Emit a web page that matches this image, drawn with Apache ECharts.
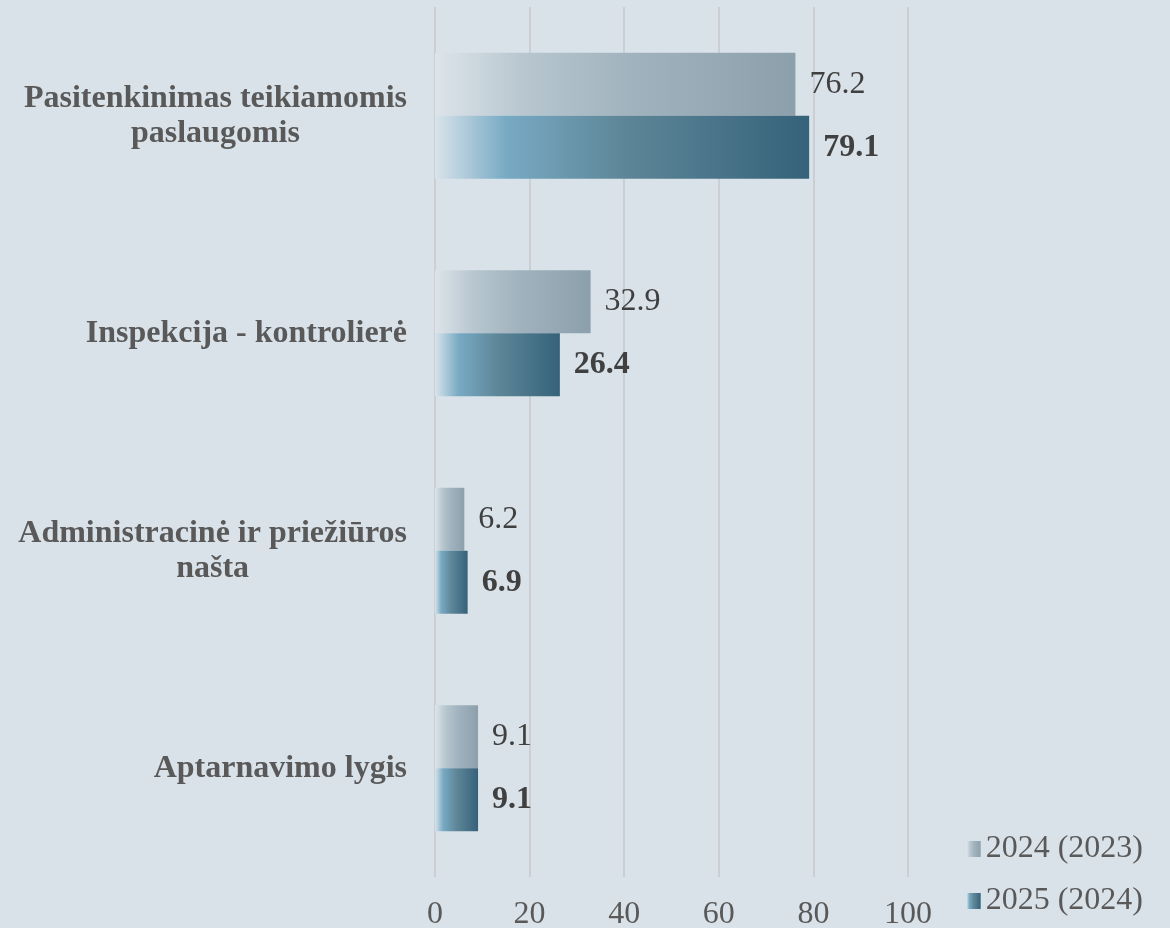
<!DOCTYPE html>
<html>
<head>
<meta charset="utf-8">
<script src="https://cdn.jsdelivr.net/npm/echarts@6/dist/echarts.min.js"></script>
<style>
html,body{margin:0;padding:0;background:#dae2e9;}
#chart{width:1170px;height:928px;}
</style>
</head>
<body>
<div id="chart"></div>
<script>
const categories = ['Pasitenkinimas teikiamomis\npaslaugomis', 'Inspekcija - kontrolierė', 'Administracinė ir priežiūros\nnašta', 'Aptarnavimo lygis'];
const seriesNames = ['2024 (2023)', '2025 (2024)'];
const values2024 = [76.2, 32.9, 6.2, 9.1];
const values2025 = [79.1, 26.4, 6.9, 9.1];
const xTicks = { min: 0, max: 100, interval: 20 };

const FONT = "'Liberation Serif', 'Times New Roman', serif";

function grad(stops) {
  return new echarts.graphic.LinearGradient(0, 0, 1, 0, stops.map(s => ({ offset: s[0], color: s[1] })));
}
const grad2024 = grad([[0, '#dde4ea'], [0.25, '#b7c6cf'], [0.55, '#a0b2bd'], [1, '#8ca0ac']]);
const grad2025 = grad([[0, '#d8e3ea'], [0.19, '#78aac4'], [0.5, '#5e8698'], [1, '#35627a']]);

const chart = echarts.init(document.getElementById('chart'));
chart.setOption({
  backgroundColor: '#dae2e9',
  animation: false,
  grid: { left: 435, right: 262, top: 7, bottom: 51, containLabel: false, outerBoundsMode: 'none' },
  legend: {
    orient: 'vertical',
    right: 22,
    bottom: 6,
    itemWidth: 14,
    itemHeight: 16,
    itemGap: 20,
    icon: 'rect',
    textStyle: { fontFamily: FONT, fontSize: 32, color: '#595959' },
    data: seriesNames
  },
  xAxis: {
    type: 'value',
    min: xTicks.min, max: xTicks.max, interval: xTicks.interval,
    axisLine: { show: false },
    axisTick: { show: false },
    splitLine: { show: true, lineStyle: { color: '#cbcfd3', width: 2 } },
    axisLabel: { fontFamily: FONT, fontSize: 32, color: '#595959', margin: 22 }
  },
  yAxis: {
    type: 'category',
    inverse: true,
    data: categories,
    axisLine: { show: false },
    axisTick: { show: false },
    splitLine: { show: false },
    axisLabel: {
      margin: 28,
      formatter: function (v) {
        return v.split('\n').map(l => '{a|' + l + '}').join('\n');
      },
      rich: {
        a: { align: 'center', fontFamily: FONT, fontSize: 32, fontWeight: 'bold', color: '#595959', lineHeight: 35 }
      }
    }
  },
  series: [
    {
      name: seriesNames[0], type: 'bar', data: values2024,
      barWidth: 63, barGap: '0%',
      itemStyle: { color: grad2024 },
      label: { show: true, position: 'right', distance: 14, fontFamily: FONT, fontSize: 32, color: '#404040', padding: [4, 0, 0, 0], formatter: p => p.value.toFixed(1) }
    },
    {
      name: seriesNames[1], type: 'bar', data: values2025,
      barWidth: 63, barGap: '0%',
      itemStyle: { color: grad2025 },
      label: { show: true, position: 'right', distance: 14, fontFamily: FONT, fontSize: 32, fontWeight: 'bold', color: '#404040', formatter: p => p.value.toFixed(1) }
    }
  ]
});
</script>
</body>
</html>
